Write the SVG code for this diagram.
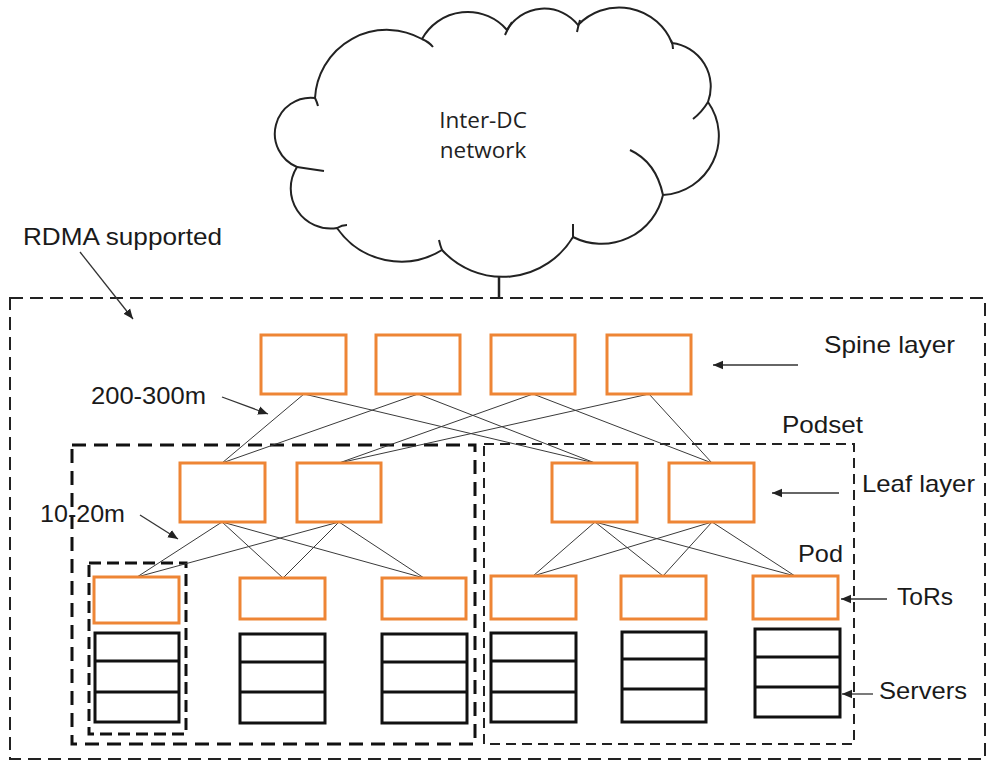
<svg xmlns="http://www.w3.org/2000/svg" width="987" height="762" viewBox="0 0 987 762">
  <defs>
    <marker id="arrow" markerUnits="userSpaceOnUse" markerWidth="12" markerHeight="10" refX="10" refY="5" orient="auto">
      <path d="M0,0.8 L10,5 L0,9.2 Z" fill="#222"/>
    </marker>
    <style>
      .bg { fill: #ffffff; }
      .sw { fill: #ffffff; stroke: #EE8535; stroke-width: 3; }
      .srv { fill: #ffffff; stroke: #111; stroke-width: 3; }
      .div { stroke: #111; stroke-width: 3; }
      .link { stroke: #3a3a3a; stroke-width: 1; fill: none; }
      .ptr { stroke: #333; stroke-width: 1.3; fill: none; marker-end: url(#arrow); }
      .cloud { fill: #ffffff; stroke: #222; stroke-width: 2; }
      .tick { fill: none; stroke: #222; stroke-width: 2; }
      .lbl { font-family: "Liberation Sans", Arial, sans-serif; font-size: 24px; fill: #1a1a1a; }
      .ctext { font-family: "Open Sans", "Liberation Sans", sans-serif; font-size: 22.5px; fill: #222; text-anchor: middle; }
    </style>
  </defs>

  <rect class="bg" x="0" y="0" width="987" height="762"/>

  <!-- Inter-DC cloud -->
  <g id="cloud">
    <path class="cloud" d="M422,39 A52 52 0 0 1 507,30 A43 43 0 0 1 578,25 A57 57 0 0 1 672,43 A44 44 0 0 1 708,102 A59 59 0 0 1 663,195 A63 63 0 0 1 573,237 A82 82 0 0 1 442,250 A78 78 0 0 1 337,228 A40 40 0 0 1 297,167 A36 36 0 0 1 315,98 A72 72 0 0 1 422,39 Z"/>
    <path class="tick" d="M422,39 Q429,42 433,47"/>
    <path class="tick" d="M512,22 Q508,28 505,35"/>
    <path class="tick" d="M580,20 Q578,27 577,32"/>
    <path class="tick" d="M671,40 Q673,45 673,49"/>
    <path class="tick" d="M708,102 Q702,112 693,119"/>
    <path class="tick" d="M630,150 Q656,162 663,195"/>
    <path class="tick" d="M573,237 Q573,230 573,224"/>
    <path class="tick" d="M442,250 Q440,245 439,240"/>
    <path class="tick" d="M337,228 Q342,225 347,225"/>
    <path class="tick" d="M297,167 Q310,169 324,171"/>
    <path class="tick" d="M315,98 Q317,102 318,106"/>
    <text class="ctext" x="483" y="128">Inter-DC</text>
    <text class="ctext" x="483" y="158">network</text>
  </g>

  <!-- uplink from the fabric to the cloud -->
  <line x1="499" y1="277" x2="499" y2="298" stroke="#222" stroke-width="2.5"/>

  <!-- dashed regions -->
  <g id="rdma-region">
    <rect x="10" y="298" width="975" height="461" fill="none" stroke="#222" stroke-width="2" stroke-dasharray="13 7"/>
  </g>
  <g id="podset-left">
    <rect x="72" y="445" width="403" height="299" fill="none" stroke="#111" stroke-width="3" stroke-dasharray="14 8"/>
  </g>
  <g id="podset-right">
    <rect x="484" y="444" width="370" height="300" fill="none" stroke="#222" stroke-width="2" stroke-dasharray="10 6"/>
  </g>
  <g id="pod">
    <rect x="89" y="563" width="97" height="171" fill="none" stroke="#111" stroke-width="3" stroke-dasharray="12 6"/>
  </g>

  <!-- links -->
  <g id="connectors">
    <!-- spine to leaf -->
    <line class="link" x1="304" y1="394" x2="222" y2="463"/>
    <line class="link" x1="304" y1="394" x2="595" y2="463"/>
    <line class="link" x1="418" y1="394" x2="222" y2="463"/>
    <line class="link" x1="418" y1="394" x2="595" y2="463"/>
    <line class="link" x1="533" y1="394" x2="339" y2="463"/>
    <line class="link" x1="533" y1="394" x2="712" y2="463"/>
    <line class="link" x1="649" y1="394" x2="339" y2="463"/>
    <line class="link" x1="649" y1="394" x2="712" y2="463"/>
    <!-- leaf to ToR, left podset -->
    <line class="link" x1="222" y1="522" x2="137" y2="577"/>
    <line class="link" x1="222" y1="522" x2="283" y2="578"/>
    <line class="link" x1="222" y1="522" x2="424" y2="578"/>
    <line class="link" x1="339" y1="522" x2="137" y2="577"/>
    <line class="link" x1="339" y1="522" x2="283" y2="578"/>
    <line class="link" x1="339" y1="522" x2="424" y2="578"/>
    <!-- leaf to ToR, right podset -->
    <line class="link" x1="595" y1="522" x2="533" y2="576"/>
    <line class="link" x1="595" y1="522" x2="663" y2="576"/>
    <line class="link" x1="595" y1="522" x2="795" y2="576"/>
    <line class="link" x1="712" y1="522" x2="533" y2="576"/>
    <line class="link" x1="712" y1="522" x2="663" y2="576"/>
    <line class="link" x1="712" y1="522" x2="795" y2="576"/>
    <!-- label pointers -->
    <line class="ptr" x1="80" y1="252" x2="133" y2="319"/>
    <line class="ptr" x1="222" y1="397" x2="268" y2="414"/>
    <line class="ptr" x1="140" y1="515" x2="178" y2="539"/>
    <line class="ptr" x1="798" y1="365" x2="713" y2="365"/>
    <line class="ptr" x1="839" y1="493" x2="772" y2="493"/>
    <line class="ptr" x1="887" y1="599" x2="841" y2="599"/>
    <line class="ptr" x1="873" y1="694" x2="842" y2="694"/>
  </g>

  <!-- spine switches -->
  <g id="spine-1"><rect class="sw" x="261" y="335" width="85" height="59"/></g>
  <g id="spine-2"><rect class="sw" x="376" y="335" width="84" height="59"/></g>
  <g id="spine-3"><rect class="sw" x="491" y="335" width="84" height="59"/></g>
  <g id="spine-4"><rect class="sw" x="607" y="335" width="84" height="59"/></g>

  <!-- leaf switches -->
  <g id="leaf-1"><rect class="sw" x="180" y="463" width="85" height="59"/></g>
  <g id="leaf-2"><rect class="sw" x="297" y="463" width="84" height="59"/></g>
  <g id="leaf-3"><rect class="sw" x="552" y="463" width="85" height="59"/></g>
  <g id="leaf-4"><rect class="sw" x="669" y="463" width="85" height="59"/></g>

  <!-- top-of-rack switches -->
  <g id="tor-1"><rect class="sw" x="94" y="577" width="85" height="46"/></g>
  <g id="tor-2"><rect class="sw" x="240" y="578" width="85" height="41"/></g>
  <g id="tor-3"><rect class="sw" x="382" y="578" width="84" height="41"/></g>
  <g id="tor-4"><rect class="sw" x="491" y="576" width="85" height="43"/></g>
  <g id="tor-5"><rect class="sw" x="621" y="576" width="85" height="43"/></g>
  <g id="tor-6"><rect class="sw" x="753" y="576" width="85" height="43"/></g>

  <!-- server racks -->
  <g id="rack-1">
    <rect class="srv" x="95" y="633" width="84" height="89"/>
    <line class="div" x1="95" y1="661" x2="179" y2="661"/>
    <line class="div" x1="95" y1="692" x2="179" y2="692"/>
  </g>
  <g id="rack-2">
    <rect class="srv" x="240" y="634" width="85" height="89"/>
    <line class="div" x1="240" y1="662" x2="325" y2="662"/>
    <line class="div" x1="240" y1="692" x2="325" y2="692"/>
  </g>
  <g id="rack-3">
    <rect class="srv" x="382" y="634" width="85" height="89"/>
    <line class="div" x1="382" y1="662" x2="467" y2="662"/>
    <line class="div" x1="382" y1="692" x2="467" y2="692"/>
  </g>
  <g id="rack-4">
    <rect class="srv" x="491" y="633" width="85" height="89"/>
    <line class="div" x1="491" y1="661" x2="576" y2="661"/>
    <line class="div" x1="491" y1="692" x2="576" y2="692"/>
  </g>
  <g id="rack-5">
    <rect class="srv" x="622" y="632" width="84" height="90"/>
    <line class="div" x1="622" y1="659" x2="706" y2="659"/>
    <line class="div" x1="622" y1="689" x2="706" y2="689"/>
  </g>
  <g id="rack-6">
    <rect class="srv" x="755" y="629" width="85" height="88"/>
    <line class="div" x1="755" y1="657" x2="840" y2="657"/>
    <line class="div" x1="755" y1="687" x2="840" y2="687"/>
  </g>

  <!-- labels -->
  <g id="labels">
    <text class="lbl" x="23" y="245" textLength="199" lengthAdjust="spacingAndGlyphs">RDMA supported</text>
    <text class="lbl" x="91" y="404" textLength="115" lengthAdjust="spacingAndGlyphs">200-300m</text>
    <text class="lbl" x="40" y="522" textLength="85" lengthAdjust="spacingAndGlyphs">10-20m</text>
    <text class="lbl" x="824" y="353" textLength="131" lengthAdjust="spacingAndGlyphs">Spine layer</text>
    <text class="lbl" x="782" y="433" textLength="81" lengthAdjust="spacingAndGlyphs">Podset</text>
    <text class="lbl" x="862" y="492" textLength="113" lengthAdjust="spacingAndGlyphs">Leaf layer</text>
    <text class="lbl" x="798" y="562" textLength="45" lengthAdjust="spacingAndGlyphs">Pod</text>
    <text class="lbl" x="897" y="605" textLength="56" lengthAdjust="spacingAndGlyphs">ToRs</text>
    <text class="lbl" x="879" y="699" textLength="88" lengthAdjust="spacingAndGlyphs">Servers</text>
  </g>
</svg>
